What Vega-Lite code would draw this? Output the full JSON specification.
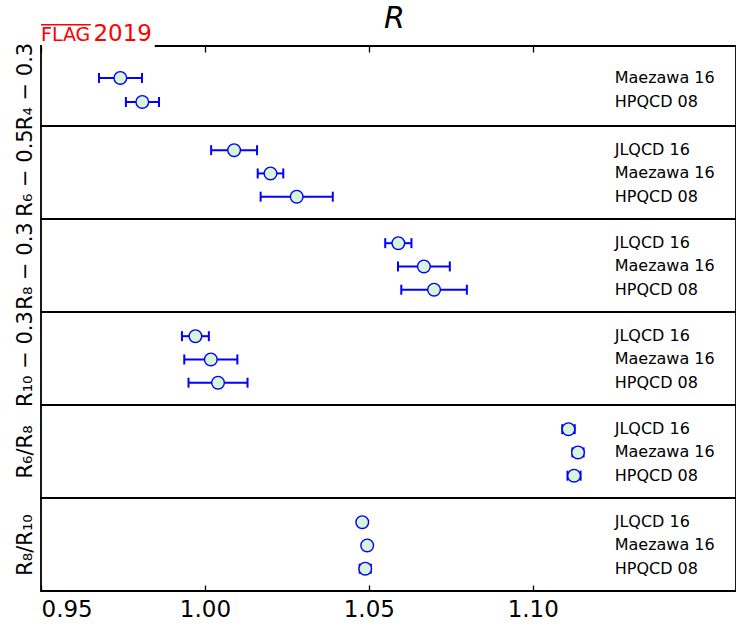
{
  "$schema": "https://vega.github.io/schema/vega-lite/v6.json",
  "padding": {"left": 13, "top": 3, "right": 0, "bottom": 0},
  "background": "white",
  "bounds": "flush",
  "spacing": 0,
  "title": {"text": "R", "fontSize": 30, "fontStyle": "italic", "font": "DejaVu Sans", "fontWeight": "normal", "frame": "group", "anchor": "middle", "offset": -17, "dx": 6, "color": "black"},
  "config": {
    "view": {"stroke": "black", "strokeWidth": 1.8},
    "axis": {"grid": false, "titleFont": "DejaVu Sans", "labelFont": "DejaVu Sans", "titleFontWeight": "normal", "titleColor": "black", "labelColor": "black", "tickColor": "black"}
  },
  "datasets": {
    "p1": [
      {"label": "Maezawa 16", "idx": 1, "value": 0.9742, "lo": 0.9677, "hi": 0.9808},
      {"label": "HPQCD 08", "idx": 2, "value": 0.9809, "lo": 0.9759, "hi": 0.9860}
    ],
    "p2": [
      {"label": "JLQCD 16", "idx": 1, "value": 1.0089, "lo": 1.0019, "hi": 1.0159},
      {"label": "Maezawa 16", "idx": 2, "value": 1.0200, "lo": 1.0161, "hi": 1.0239},
      {"label": "HPQCD 08", "idx": 3, "value": 1.0280, "lo": 1.0170, "hi": 1.0390}
    ],
    "p3": [
      {"label": "JLQCD 16", "idx": 1, "value": 1.0590, "lo": 1.0550, "hi": 1.0630},
      {"label": "Maezawa 16", "idx": 2, "value": 1.0668, "lo": 1.0589, "hi": 1.0747},
      {"label": "HPQCD 08", "idx": 3, "value": 1.0699, "lo": 1.0599, "hi": 1.0799}
    ],
    "p4": [
      {"label": "JLQCD 16", "idx": 1, "value": 0.9971, "lo": 0.9930, "hi": 1.0012},
      {"label": "Maezawa 16", "idx": 2, "value": 1.0018, "lo": 0.9937, "hi": 1.0099},
      {"label": "HPQCD 08", "idx": 3, "value": 1.0040, "lo": 0.9950, "hi": 1.0130}
    ],
    "p5": [
      {"label": "JLQCD 16", "idx": 1, "value": 1.1109, "lo": 1.1090, "hi": 1.1128},
      {"label": "Maezawa 16", "idx": 2, "value": 1.1138, "lo": 1.1121, "hi": 1.1155},
      {"label": "HPQCD 08", "idx": 3, "value": 1.1126, "lo": 1.1106, "hi": 1.1146}
    ],
    "p6": [
      {"label": "JLQCD 16", "idx": 1, "value": 1.0480, "lo": 1.0470, "hi": 1.0490},
      {"label": "Maezawa 16", "idx": 2, "value": 1.0495, "lo": 1.0487, "hi": 1.0503},
      {"label": "HPQCD 08", "idx": 3, "value": 1.0489, "lo": 1.0472, "hi": 1.0506}
    ]
  },
  "vconcat": [
    {
      "width": 695, "height": 80,
      "data": {"name": "p1"},
      "encoding": {
        "y": {"field": "idx", "type": "quantitative", "scale": {"domain": [-0.33, 3.0], "reverse": true, "nice": false, "zero": false},
          "axis": {"title": "R₄ − 0.3", "titleFontSize": 21, "labels": false, "ticks": false, "domain": false, "titlePadding": 6}}
      },
      "layer": [
        {"mark": {"type": "rule", "color": "#0000ff", "strokeWidth": 2},
         "encoding": {"x": {"field": "lo", "type": "quantitative", "scale": {"domain": [0.95, 1.162], "nice": false, "zero": false},
            "axis": {"orient": "top", "values": [0.95, 1.0, 1.05, 1.1], "labels": false, "tickSize": 6, "offset": -6, "tickWidth": 1.3, "domain": false, "title": null}},
          "x2": {"field": "hi"}}},
        {"mark": {"type": "tick", "orient": "vertical", "color": "#0000ff", "thickness": 2, "size": 10, "opacity": 1}, "encoding": {"x": {"field": "lo", "type": "quantitative"}}},
        {"mark": {"type": "tick", "orient": "vertical", "color": "#0000ff", "thickness": 2, "size": 10, "opacity": 1}, "encoding": {"x": {"field": "hi", "type": "quantitative"}}},
        {"mark": {"type": "point", "shape": "circle", "filled": true, "fill": "#d8f5d8", "stroke": "#0000ff", "strokeWidth": 1.4, "size": 160, "opacity": 1}, "encoding": {"x": {"field": "value", "type": "quantitative"}}},
        {"mark": {"type": "text", "align": "left", "baseline": "middle", "fontSize": 16, "font": "DejaVu Sans", "color": "black"}, "encoding": {"x": {"datum": 1.125, "type": "quantitative"}, "text": {"field": "label"}}},
        {"transform": [{"filter": "datum.idx == 1"}], "mark": {"type": "rect", "fill": "white", "opacity": 1, "clip": false}, "encoding": {"x": {"datum": 0.9503, "type": "quantitative"}, "x2": {"datum": 0.9847}, "y": {"datum": -1.5, "type": "quantitative"}, "y2": {"datum": -0.28}}},
        {"transform": [{"filter": "datum.idx == 1"}], "mark": {"type": "text", "text": "FLAG", "align": "left", "baseline": "alphabetic", "fontSize": 19, "font": "DejaVu Sans", "color": "red", "clip": false}, "encoding": {"x": {"datum": 0.95, "type": "quantitative"}, "y": {"datum": -0.54, "type": "quantitative"}}},
        {"transform": [{"filter": "datum.idx == 1"}], "mark": {"type": "text", "text": "2019", "align": "left", "baseline": "alphabetic", "fontSize": 23, "font": "DejaVu Sans", "color": "red", "clip": false}, "encoding": {"x": {"datum": 0.966, "type": "quantitative"}, "y": {"datum": -0.54, "type": "quantitative"}}},
        {"transform": [{"filter": "datum.idx == 1"}], "mark": {"type": "rule", "color": "red", "strokeWidth": 1.5, "clip": false}, "encoding": {"x": {"datum": 0.95, "type": "quantitative"}, "x2": {"datum": 0.9652}, "y": {"datum": -1.21, "type": "quantitative"}}}
      ]
    },
    {
      "width": 695, "height": 93,
      "data": {"name": "p2"},
      "encoding": {
        "y": {"field": "idx", "type": "quantitative", "scale": {"domain": [-0.04, 3.96], "reverse": true, "nice": false, "zero": false},
          "axis": {"title": "R₆ − 0.5", "titleFontSize": 21, "labels": false, "ticks": false, "domain": false, "titlePadding": 6}}
      },
      "layer": [
        {"mark": {"type": "rule", "color": "#0000ff", "strokeWidth": 2},
         "encoding": {"x": {"field": "lo", "type": "quantitative", "scale": {"domain": [0.95, 1.162], "nice": false, "zero": false}, "axis": null}, "x2": {"field": "hi"}}},
        {"mark": {"type": "tick", "orient": "vertical", "color": "#0000ff", "thickness": 2, "size": 10, "opacity": 1}, "encoding": {"x": {"field": "lo", "type": "quantitative"}}},
        {"mark": {"type": "tick", "orient": "vertical", "color": "#0000ff", "thickness": 2, "size": 10, "opacity": 1}, "encoding": {"x": {"field": "hi", "type": "quantitative"}}},
        {"mark": {"type": "point", "shape": "circle", "filled": true, "fill": "#d8f5d8", "stroke": "#0000ff", "strokeWidth": 1.4, "size": 160, "opacity": 1}, "encoding": {"x": {"field": "value", "type": "quantitative"}}},
        {"mark": {"type": "text", "align": "left", "baseline": "middle", "fontSize": 16, "font": "DejaVu Sans", "color": "black"}, "encoding": {"x": {"datum": 1.125, "type": "quantitative"}, "text": {"field": "label"}}}
      ]
    },
    {
      "width": 695, "height": 93,
      "data": {"name": "p3"},
      "encoding": {
        "y": {"field": "idx", "type": "quantitative", "scale": {"domain": [-0.04, 3.96], "reverse": true, "nice": false, "zero": false},
          "axis": {"title": "R₈ − 0.3", "titleFontSize": 21, "labels": false, "ticks": false, "domain": false, "titlePadding": 6}}
      },
      "layer": [
        {"mark": {"type": "rule", "color": "#0000ff", "strokeWidth": 2},
         "encoding": {"x": {"field": "lo", "type": "quantitative", "scale": {"domain": [0.95, 1.162], "nice": false, "zero": false}, "axis": null}, "x2": {"field": "hi"}}},
        {"mark": {"type": "tick", "orient": "vertical", "color": "#0000ff", "thickness": 2, "size": 10, "opacity": 1}, "encoding": {"x": {"field": "lo", "type": "quantitative"}}},
        {"mark": {"type": "tick", "orient": "vertical", "color": "#0000ff", "thickness": 2, "size": 10, "opacity": 1}, "encoding": {"x": {"field": "hi", "type": "quantitative"}}},
        {"mark": {"type": "point", "shape": "circle", "filled": true, "fill": "#d8f5d8", "stroke": "#0000ff", "strokeWidth": 1.4, "size": 160, "opacity": 1}, "encoding": {"x": {"field": "value", "type": "quantitative"}}},
        {"mark": {"type": "text", "align": "left", "baseline": "middle", "fontSize": 16, "font": "DejaVu Sans", "color": "black"}, "encoding": {"x": {"datum": 1.125, "type": "quantitative"}, "text": {"field": "label"}}}
      ]
    },
    {
      "width": 695, "height": 93,
      "data": {"name": "p4"},
      "encoding": {
        "y": {"field": "idx", "type": "quantitative", "scale": {"domain": [-0.04, 3.96], "reverse": true, "nice": false, "zero": false},
          "axis": {"title": "R₁₀ − 0.3", "titleFontSize": 21, "labels": false, "ticks": false, "domain": false, "titlePadding": 6}}
      },
      "layer": [
        {"mark": {"type": "rule", "color": "#0000ff", "strokeWidth": 2},
         "encoding": {"x": {"field": "lo", "type": "quantitative", "scale": {"domain": [0.95, 1.162], "nice": false, "zero": false}, "axis": null}, "x2": {"field": "hi"}}},
        {"mark": {"type": "tick", "orient": "vertical", "color": "#0000ff", "thickness": 2, "size": 10, "opacity": 1}, "encoding": {"x": {"field": "lo", "type": "quantitative"}}},
        {"mark": {"type": "tick", "orient": "vertical", "color": "#0000ff", "thickness": 2, "size": 10, "opacity": 1}, "encoding": {"x": {"field": "hi", "type": "quantitative"}}},
        {"mark": {"type": "point", "shape": "circle", "filled": true, "fill": "#d8f5d8", "stroke": "#0000ff", "strokeWidth": 1.4, "size": 160, "opacity": 1}, "encoding": {"x": {"field": "value", "type": "quantitative"}}},
        {"mark": {"type": "text", "align": "left", "baseline": "middle", "fontSize": 16, "font": "DejaVu Sans", "color": "black"}, "encoding": {"x": {"datum": 1.125, "type": "quantitative"}, "text": {"field": "label"}}}
      ]
    },
    {
      "width": 695, "height": 93,
      "data": {"name": "p5"},
      "encoding": {
        "y": {"field": "idx", "type": "quantitative", "scale": {"domain": [-0.04, 3.96], "reverse": true, "nice": false, "zero": false},
          "axis": {"title": "R₆/R₈", "titleFontSize": 21, "labels": false, "ticks": false, "domain": false, "titlePadding": 6}}
      },
      "layer": [
        {"mark": {"type": "rule", "color": "#0000ff", "strokeWidth": 2},
         "encoding": {"x": {"field": "lo", "type": "quantitative", "scale": {"domain": [0.95, 1.162], "nice": false, "zero": false}, "axis": null}, "x2": {"field": "hi"}}},
        {"mark": {"type": "tick", "orient": "vertical", "color": "#0000ff", "thickness": 2, "size": 10, "opacity": 1}, "encoding": {"x": {"field": "lo", "type": "quantitative"}}},
        {"mark": {"type": "tick", "orient": "vertical", "color": "#0000ff", "thickness": 2, "size": 10, "opacity": 1}, "encoding": {"x": {"field": "hi", "type": "quantitative"}}},
        {"mark": {"type": "point", "shape": "circle", "filled": true, "fill": "#d8f5d8", "stroke": "#0000ff", "strokeWidth": 1.4, "size": 160, "opacity": 1}, "encoding": {"x": {"field": "value", "type": "quantitative"}}},
        {"mark": {"type": "text", "align": "left", "baseline": "middle", "fontSize": 16, "font": "DejaVu Sans", "color": "black"}, "encoding": {"x": {"datum": 1.125, "type": "quantitative"}, "text": {"field": "label"}}}
      ]
    },
    {
      "width": 695, "height": 93,
      "data": {"name": "p6"},
      "encoding": {
        "y": {"field": "idx", "type": "quantitative", "scale": {"domain": [-0.04, 3.96], "reverse": true, "nice": false, "zero": false},
          "axis": {"title": "R₈/R₁₀", "titleFontSize": 21, "labels": false, "ticks": false, "domain": false, "titlePadding": 6}}
      },
      "layer": [
        {"mark": {"type": "rule", "color": "#0000ff", "strokeWidth": 2},
         "encoding": {"x": {"field": "lo", "type": "quantitative", "scale": {"domain": [0.95, 1.162], "nice": false, "zero": false},
            "axis": {"orient": "bottom", "values": [0.95, 1.0, 1.05, 1.1], "format": ".2f", "labelFontSize": 23, "tickSize": 6, "offset": -6, "tickWidth": 1.3, "labelPadding": 7, "domain": false, "title": null}},
          "x2": {"field": "hi"}}},
        {"mark": {"type": "tick", "orient": "vertical", "color": "#0000ff", "thickness": 2, "size": 10, "opacity": 1}, "encoding": {"x": {"field": "lo", "type": "quantitative"}}},
        {"mark": {"type": "tick", "orient": "vertical", "color": "#0000ff", "thickness": 2, "size": 10, "opacity": 1}, "encoding": {"x": {"field": "hi", "type": "quantitative"}}},
        {"mark": {"type": "point", "shape": "circle", "filled": true, "fill": "#d8f5d8", "stroke": "#0000ff", "strokeWidth": 1.4, "size": 160, "opacity": 1}, "encoding": {"x": {"field": "value", "type": "quantitative"}}},
        {"mark": {"type": "text", "align": "left", "baseline": "middle", "fontSize": 16, "font": "DejaVu Sans", "color": "black"}, "encoding": {"x": {"datum": 1.125, "type": "quantitative"}, "text": {"field": "label"}}}
      ]
    }
  ]
}
